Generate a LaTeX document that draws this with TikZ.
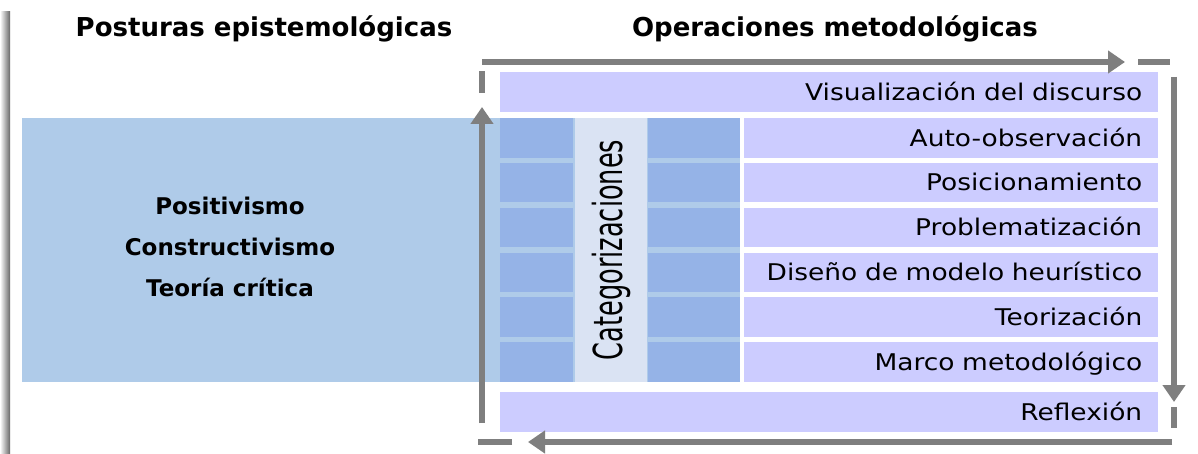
\documentclass[tikz,border=0pt]{standalone}
\usepackage{fontspec}
\setmainfont{DejaVu Sans}
\newfontfamily\opfont{DejaVu Sans}[FakeStretch=1.15]
\newfontfamily\catfont{DejaVu Sans}[FakeStretch=0.64]
\usetikzlibrary{arrows.meta, positioning}

\definecolor{posturablue}{HTML}{AFCBE9}
\definecolor{cellblue}{HTML}{95B3E7}
\definecolor{catblue}{HTML}{DAE3F3}
\definecolor{opviolet}{HTML}{CCCCFF}
\definecolor{cyclegray}{HTML}{7F7F7F}

\begin{document}
\begin{tikzpicture}[
    x = 1pt, y = -1pt,
    cyclearrow/.style = {draw = cyclegray,
      line width = 5.5pt,
      -{Triangle[length = 17pt, width = 22pt]}},
    cycledash/.style = {draw = cyclegray, line width = 5.5pt},
    opbox/.style = {fill = opviolet,
      anchor = north west,
      minimum width = 414pt, minimum height = 39.5pt,
      text width = 382pt, text height = 16.5pt, text depth = 0pt,
      inner xsep = 16pt, inner ysep = 0pt,
      align = right,
      font = \opfont\fontsize{23}{28}\selectfont},
    widebox/.style = {opbox, minimum width = 658pt, text width = 626pt},
    cellbox/.style = {fill = cellblue,
      anchor = north west,
      minimum height = 39.5pt, inner sep = 0pt},
    heading/.style = {anchor = base,
      font = \bfseries\fontsize{26}{31}\selectfont}
    ]

    \useasboundingbox [fill = white] (0, 0) rectangle (1198, 454);
    \shade [left color = white, right color = black!60] (0, 12) rectangle (10, 454);

    \node at (264, 37) [heading, name = postures] {Posturas epistemológicas};
    \node at (835, 37) [heading, name = operations] {Operaciones metodológicas};

    \node at (22, 118) [fill = posturablue, anchor = north west,
      minimum width = 718pt, minimum height = 264pt, inner sep = 0pt,
      name = paradigms] {};
    \node at (230, 247) [align = center,
      font = \bfseries\fontsize{23}{41}\selectfont,
      name = schools] {Positivismo\\Constructivismo\\Teoría crítica};

    \node at (500, 118) [cellbox, minimum width = 73pt, name = ca1] {};
    \node at (500, 162.8) [cellbox, minimum width = 73pt, name = ca2] {};
    \node at (500, 207.6) [cellbox, minimum width = 73pt, name = ca3] {};
    \node at (500, 252.4) [cellbox, minimum width = 73pt, name = ca4] {};
    \node at (500, 297.2) [cellbox, minimum width = 73pt, name = ca5] {};
    \node at (500, 342) [cellbox, minimum width = 73pt, name = ca6] {};
    \node at (648, 118) [cellbox, minimum width = 92pt, name = cb1] {};
    \node at (648, 162.8) [cellbox, minimum width = 92pt, name = cb2] {};
    \node at (648, 207.6) [cellbox, minimum width = 92pt, name = cb3] {};
    \node at (648, 252.4) [cellbox, minimum width = 92pt, name = cb4] {};
    \node at (648, 297.2) [cellbox, minimum width = 92pt, name = cb5] {};
    \node at (648, 342) [cellbox, minimum width = 92pt, name = cb6] {};

    \node at (611, 250) [fill = catblue, rotate = 90,
      minimum width = 264pt, minimum height = 72pt, inner sep = 0pt,
      font = \catfont\fontsize{40}{48}\selectfont,
      name = categories] {Categorizaciones};

    \node at (500, 72) [widebox, name = discourse] {Visualización del discurso};
    \node at (744, 118) [opbox, name = selfobs] {Auto-observación};
    \node at (744, 162.8) [opbox, name = position] {Posicionamiento};
    \node at (744, 207.6) [opbox, name = problem] {Problematización};
    \node at (744, 252.4) [opbox, name = heuristic] {Diseño de modelo heurístico};
    \node at (744, 297.2) [opbox, name = theory] {Teorización};
    \node at (744, 342) [opbox, name = framework] {Marco metodológico};
    \node at (500, 392) [widebox, name = reflection] {Reflexión};

    \coordinate (topleft) at (482, 62);
    \coordinate (topright) at (1125, 62);
    \coordinate (rightup) at (1174, 77);
    \coordinate (rightdown) at (1174, 402);
    \coordinate (bottomright) at (1172, 442);
    \coordinate (bottomleft) at (528, 442);
    \coordinate (leftdown) at (482, 423);
    \coordinate (leftup) at (482, 107);

    \draw [cyclearrow] (topleft) to (topright);
    \draw [cyclearrow] (rightup) to (rightdown);
    \draw [cyclearrow] (bottomright) to (bottomleft);
    \draw [cyclearrow] (leftdown) to (leftup);

    \draw [cycledash] (1138, 62) -- (1170, 62);
    \draw [cycledash] (1174, 407) -- (1174, 428);
    \draw [cycledash] (512, 442) -- (478, 442);
    \draw [cycledash] (482, 93) -- (482, 71);

  \end{tikzpicture}
\end{document}
